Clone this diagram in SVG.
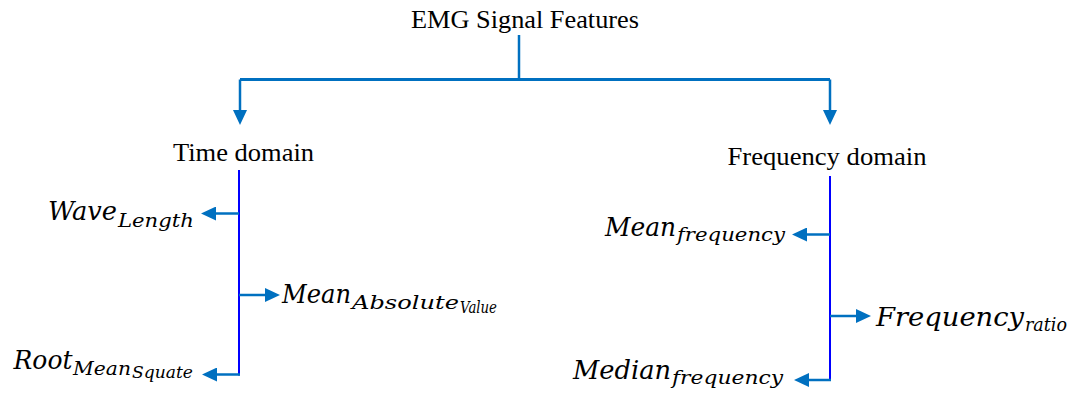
<svg xmlns="http://www.w3.org/2000/svg" width="1073" height="398" viewBox="0 0 1073 398">
  <style>
    .serif { font-family: "Liberation Serif", "Times New Roman", serif; font-size: 26px; fill: #000; }
    .m { font-family: "DejaVu Serif", "Liberation Serif", serif; font-style: italic; fill: #000; }
    .m0 { font-size: 26px; }
    .m1 { font-size: 19px; }
    .m2 { font-size: 17px; }
    .conn { stroke: #0070C0; stroke-width: 2.5; fill: none; }
    .bar { stroke: #0070C0; stroke-width: 3; fill: none; }
    .trunk { stroke: #0000FF; stroke-width: 2; fill: none; }
  </style>
  <defs>
    <marker id="ah" markerUnits="userSpaceOnUse" markerWidth="15" markerHeight="14" refX="3" refY="7" orient="auto">
      <path d="M0,0 L15,7 L0,14 Z" fill="#0070C0"/>
    </marker>
  </defs>
  <rect width="1073" height="398" fill="#fff"/>

  <g id="connectors">
    <line class="conn" x1="519" y1="35" x2="519" y2="79.5"/>
    <line class="bar" x1="240" y1="79.5" x2="830" y2="79.5"/>
    <line class="conn" x1="240" y1="79.5" x2="240" y2="113" marker-end="url(#ah)"/>
    <line class="conn" x1="830" y1="79.5" x2="830" y2="113" marker-end="url(#ah)"/>

    <line class="trunk" x1="239" y1="170" x2="239" y2="375.5"/>
    <line class="conn" x1="239" y1="213.5" x2="213" y2="213.5" marker-end="url(#ah)"/>
    <line class="conn" x1="239" y1="295" x2="268" y2="295" marker-end="url(#ah)"/>
    <line class="conn" x1="240" y1="374.5" x2="214" y2="374.5" marker-end="url(#ah)"/>

    <line class="trunk" x1="830" y1="176" x2="830" y2="381"/>
    <line class="conn" x1="830" y1="234.5" x2="804" y2="234.5" marker-end="url(#ah)"/>
    <line class="conn" x1="830" y1="316" x2="859" y2="316" marker-end="url(#ah)"/>
    <line class="conn" x1="831" y1="380" x2="806" y2="380" marker-end="url(#ah)"/>
  </g>

  <g id="root">
    <text class="serif" x="525" y="28" text-anchor="middle" textLength="228" lengthAdjust="spacingAndGlyphs">EMG Signal Features</text>
  </g>
  <g id="time-domain">
    <text class="serif" x="243.5" y="161" text-anchor="middle" textLength="141" lengthAdjust="spacingAndGlyphs">Time domain</text>
  </g>
  <g id="frequency-domain">
    <text class="serif" x="827" y="164.5" text-anchor="middle" textLength="199" lengthAdjust="spacingAndGlyphs">Frequency domain</text>
  </g>

  <g id="wave-length">
    <text class="m m0" x="48" y="220" textLength="69" lengthAdjust="spacingAndGlyphs">Wave</text>
    <text class="m m1" x="118" y="226.7" textLength="76" lengthAdjust="spacingAndGlyphs">Length</text>
  </g>
  <g id="mean-absolute-value">
    <text class="m m0" x="282" y="303.3" textLength="69" lengthAdjust="spacingAndGlyphs">Mean</text>
    <text class="m m1" x="352" y="309.3" textLength="107" lengthAdjust="spacingAndGlyphs">Absolute</text>
    <text class="m m2" x="460" y="313.3" textLength="37" lengthAdjust="spacingAndGlyphs">Value</text>
  </g>
  <g id="root-mean-square">
    <text class="m m0" x="13.5" y="369.3" textLength="59" lengthAdjust="spacingAndGlyphs">Root</text>
    <text class="m m1" x="73" y="375" textLength="58" lengthAdjust="spacingAndGlyphs">Mean</text>
    <text class="m m2" x="132" y="378.3" textLength="61" lengthAdjust="spacingAndGlyphs">Squate</text>
  </g>

  <g id="mean-frequency">
    <text class="m m0" x="605" y="236" textLength="71" lengthAdjust="spacingAndGlyphs">Mean</text>
    <text class="m m1" x="677" y="240.7" textLength="108" lengthAdjust="spacingAndGlyphs">frequency</text>
  </g>
  <g id="frequency-ratio">
    <text class="m m0" x="876" y="326" textLength="148" lengthAdjust="spacingAndGlyphs">Frequency</text>
    <text class="m m1" x="1025" y="330.7" textLength="42" lengthAdjust="spacingAndGlyphs">ratio</text>
  </g>
  <g id="median-frequency">
    <text class="m m0" x="573" y="379.3" textLength="98" lengthAdjust="spacingAndGlyphs">Median</text>
    <text class="m m1" x="672" y="384.3" textLength="111" lengthAdjust="spacingAndGlyphs">frequency</text>
  </g>
</svg>
